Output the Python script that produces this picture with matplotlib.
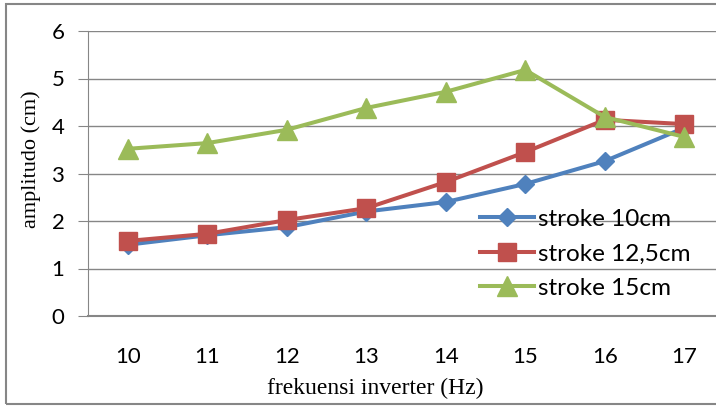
import numpy as np
import matplotlib.pyplot as plt
from matplotlib.patches import Rectangle

freq = [10, 11, 12, 13, 14, 15, 16, 17]
stroke10 = [1.50, 1.70, 1.87, 2.20, 2.40, 2.78, 3.26, 3.96]
stroke125 = [1.58, 1.73, 2.02, 2.27, 2.82, 3.45, 4.13, 4.04]
stroke15 = [3.52, 3.64, 3.92, 4.38, 4.72, 5.18, 4.19, 3.77]
labels = ["stroke 10cm", "stroke 12,5cm", "stroke 15cm"]

fig = plt.figure(figsize=(7.16, 4.09), dpi=100)
fig.patches.append(Rectangle((6/716, 5/409), 1.0, 400/409, transform=fig.transFigure,
                             fill=False, edgecolor="#868686", linewidth=1.5))

ax = fig.add_axes([88/716, 1 - 316/409, 636/716, 285/409])
x = np.arange(len(freq))

ax.plot(x, stroke10, color="#4F81BD", lw=2.9, marker="D", markersize=9, label=labels[0])
ax.plot(x, stroke125, color="#C0504D", lw=2.9, marker="s", markersize=13, label=labels[1])
ax.plot(x, stroke15, color="#9BBB59", lw=2.9, marker="^", markersize=14, label=labels[2])

ax.set_xlim(-0.5, len(freq) - 0.5)
ax.set_ylim(0, 6)
ax.set_yticks(range(0, 7))
ax.set_xticks(x)
ax.set_xticklabels([str(f) for f in freq])
ax.yaxis.grid(True, color="#868686", lw=1)
ax.set_axisbelow(True)
for s in ["top", "right"]:
    ax.spines[s].set_visible(False)
ax.spines["left"].set_color("#868686")
ax.spines["bottom"].set_color("#868686")
ax.spines["bottom"].set_linewidth(1.5)
ax.tick_params(axis="y", length=7, color="#868686", labelsize=16, pad=10)
ax.tick_params(axis="x", length=0, labelsize=16, pad=22)
for t in ax.get_xticklabels() + ax.get_yticklabels():
    t.set_family("Lato")

ax.set_xlabel("frekuensi inverter (Hz)", family="Liberation Serif", fontsize=17, va="center")
ax.xaxis.set_label_coords(0.451, -0.253)
ax.set_ylabel("amplitudo (cm)", family="Liberation Serif", fontsize=16, va="center")
ax.yaxis.set_label_coords(-0.0896, 0.551)

ax.legend(loc="center left", bbox_to_anchor=(0.598, 0.218), frameon=False,
          prop={"family": "Lato", "size": 17.5}, handlelength=2.2, handletextpad=0.15,
          labelspacing=0.55, borderpad=0)

fig.savefig("out.png", dpi=100)
